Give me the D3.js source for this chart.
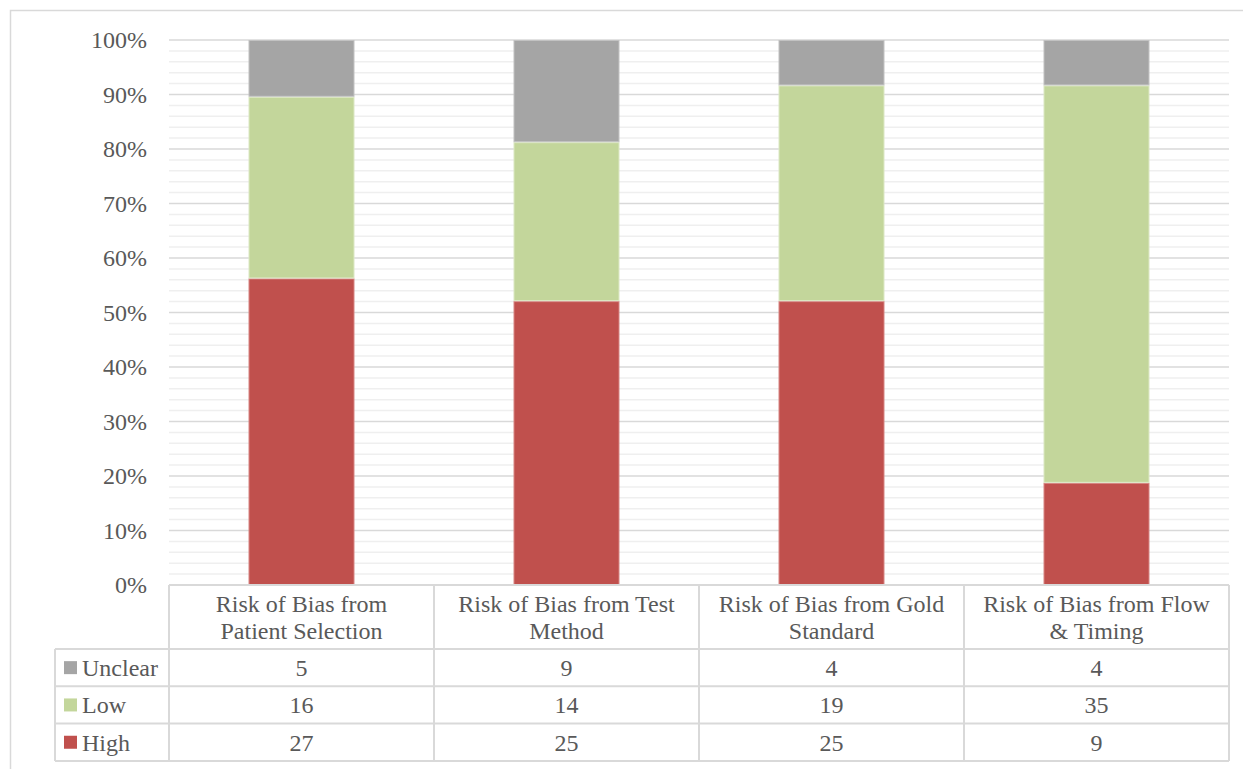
<!DOCTYPE html>
<html>
<head>
<meta charset="utf-8">
<script src="https://cdn.jsdelivr.net/npm/d3@7"></script>
<style>
  html, body { margin: 0; padding: 0; background: #fff; }
  svg { display: block; }
  text { font-family: "Liberation Serif", "Times New Roman", serif; fill: #595959; }
</style>
</head>
<body>
<svg id="chart" width="1243" height="769"></svg>
<script>
// ---- data ----
const categories = [
  "Risk of Bias from Patient Selection",
  "Risk of Bias from Test Method",
  "Risk of Bias from Gold Standard",
  "Risk of Bias from Flow & Timing"
];
const categoryLines = [
  ["Risk of Bias from", "Patient Selection"],
  ["Risk of Bias from Test", "Method"],
  ["Risk of Bias from Gold", "Standard"],
  ["Risk of Bias from Flow", "& Timing"]
];
const seriesNames = ["Unclear", "Low", "High"];   // table order (top to bottom)
const unclear = [5, 9, 4, 4];
const low = [16, 14, 19, 35];
const high = [27, 25, 25, 9];
const yTicks = [0, 0.1, 0.2, 0.3, 0.4, 0.5, 0.6, 0.7, 0.8, 0.9, 1.0];

const colors = { High: "#C0504D", Low: "#C3D69B", Unclear: "#A5A5A5" };
const strokes = { High: "#D78583", Low: "#DCE8C4", Unclear: "#C2C2C2" };

const rows = categories.map((c, i) => ({ cat: c, High: high[i], Low: low[i], Unclear: unclear[i] }));
const valuesBySeries = { Unclear: unclear, Low: low, High: high };

// ---- layout ----
const svg = d3.select("#chart");
const plot = { left: 169, right: 1229, top: 40, bottom: 585 };
const table = { left: 55, headerBottom: 649, rowH: 37.3 };
const FS = "24px";

// outer frame
svg.append("rect").attr("x", 10.5).attr("y", 10.5).attr("width", 1250).attr("height", 780)
  .attr("fill", "none").attr("stroke", "#d9d9d9").attr("stroke-width", 1.5);

const x = d3.scaleBand().domain(categories).range([plot.left, plot.right]).paddingInner(0).paddingOuter(0);
const y = d3.scaleLinear().domain([0, 1]).range([plot.bottom, plot.top]);

// minor gridlines every 2%
const minor = d3.range(0, 101, 2).filter(v => v % 10 !== 0).map(v => v / 100);
svg.append("g").selectAll("line").data(minor).join("line")
  .attr("x1", plot.left).attr("x2", plot.right)
  .attr("y1", d => y(d)).attr("y2", d => y(d))
  .attr("stroke", "#efefef").attr("stroke-width", 1.5);

// major gridlines
svg.append("g").selectAll("line").data(yTicks.filter(d => d > 0)).join("line")
  .attr("x1", plot.left).attr("x2", plot.right)
  .attr("y1", d => y(d)).attr("y2", d => y(d))
  .attr("stroke", "#d9d9d9").attr("stroke-width", 1.5);

// y axis labels
const yAxis = d3.axisLeft(y).tickValues(yTicks).tickFormat(d3.format(".0%")).tickSize(0).tickPadding(22);
const yg = svg.append("g").attr("transform", `translate(${plot.left},0)`).call(yAxis);
yg.select(".domain").remove();
yg.attr("font-family", null).attr("font-size", null);
yg.selectAll("text").style("font-family", '"Liberation Serif", serif').style("font-size", FS).attr("fill", "#595959");

// stacked bars (percent)
const stack = d3.stack().keys(["High", "Low", "Unclear"]).offset(d3.stackOffsetExpand);
const stacked = stack(rows);
const barW = x.bandwidth() * 0.4;
svg.append("g").selectAll("g").data(stacked).join("g")
  .attr("fill", d => colors[d.key]).attr("stroke", d => strokes[d.key]).attr("stroke-width", 1)
  .selectAll("rect").data(d => d).join("rect")
  .attr("x", d => x(d.data.cat) + (x.bandwidth() - barW) / 2 + 0.5)
  .attr("width", barW - 1)
  .attr("y", d => y(d[1]) + 0.5)
  .attr("height", d => y(d[0]) - y(d[1]) - 1);

// ---- data table ----
const lineColor = "#d9d9d9";
const tg = svg.append("g");
const nRows = seriesNames.length;
const tableBottom = table.headerBottom + nRows * table.rowH;

// horizontal lines
tg.append("line").attr("x1", plot.left).attr("x2", plot.right).attr("y1", plot.bottom).attr("y2", plot.bottom)
  .attr("stroke", lineColor).attr("stroke-width", 2);
tg.selectAll("line.h").data(d3.range(nRows + 1)).join("line").attr("class", "h")
  .attr("x1", table.left).attr("x2", plot.right)
  .attr("y1", i => table.headerBottom + i * table.rowH)
  .attr("y2", i => table.headerBottom + i * table.rowH)
  .attr("stroke", lineColor).attr("stroke-width", 2);
// vertical lines
const colEdges = categories.map(c => x(c)).concat([plot.right]);
tg.selectAll("line.v").data(colEdges).join("line").attr("class", "v")
  .attr("x1", d => d).attr("x2", d => d).attr("y1", plot.bottom).attr("y2", tableBottom)
  .attr("stroke", lineColor).attr("stroke-width", 2);
tg.append("line").attr("x1", table.left).attr("x2", table.left)
  .attr("y1", table.headerBottom).attr("y2", tableBottom)
  .attr("stroke", lineColor).attr("stroke-width", 2);

// header texts
categories.forEach((c, i) => {
  const t = tg.append("text").attr("x", x(c) + x.bandwidth() / 2).attr("y", 612)
    .attr("text-anchor", "middle").style("font-size", FS);
  categoryLines[i].forEach((ln, j) => {
    t.append("tspan").attr("x", x(c) + x.bandwidth() / 2).attr("dy", j === 0 ? 0 : 27).text(ln);
  });
});

// rows
seriesNames.forEach((s, r) => {
  const cy = table.headerBottom + r * table.rowH + table.rowH / 2;
  tg.append("rect").attr("x", 64).attr("y", cy - 6.5).attr("width", 13).attr("height", 13).attr("fill", colors[s]);
  tg.append("text").attr("x", 82).attr("y", cy).attr("dy", "0.35em").style("font-size", FS).text(s);
  valuesBySeries[s].forEach((v, i) => {
    tg.append("text").attr("x", x(categories[i]) + x.bandwidth() / 2).attr("y", cy).attr("dy", "0.35em")
      .attr("text-anchor", "middle").style("font-size", FS).text(v);
  });
});
</script>
</body>
</html>
